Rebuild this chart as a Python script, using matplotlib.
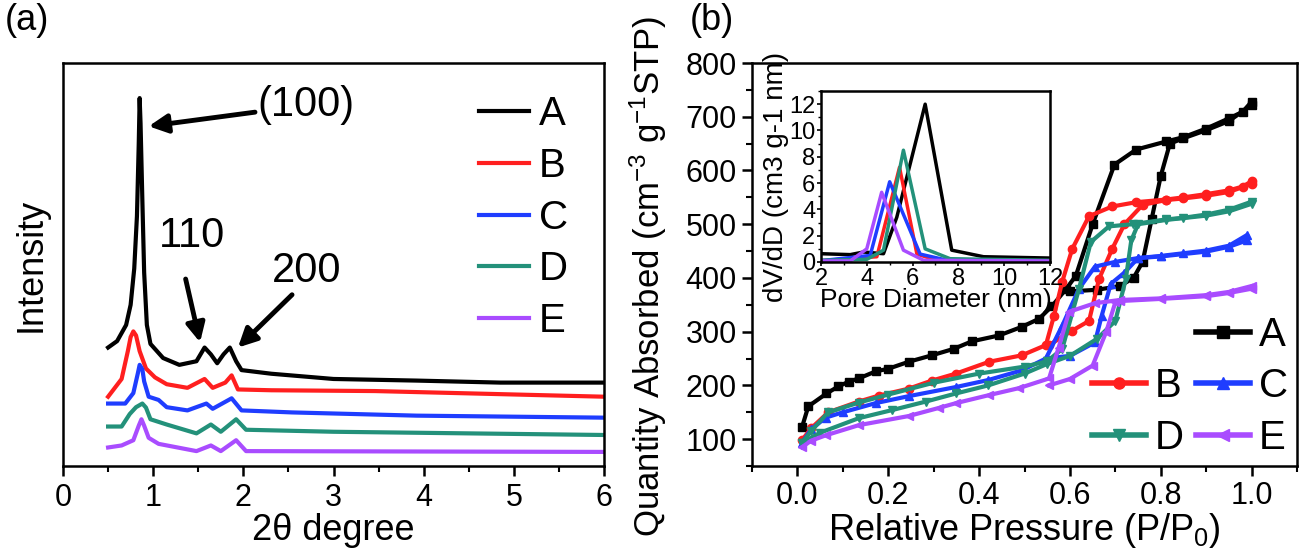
import matplotlib
matplotlib.use("Agg")
import matplotlib.pyplot as plt
from matplotlib.lines import Line2D
from matplotlib.ticker import MultipleLocator

plt.rcParams['font.family'] = ['Liberation Sans', 'DejaVu Sans']
plt.rcParams['mathtext.fontset'] = 'custom'
plt.rcParams['mathtext.rm'] = 'Liberation Sans'
plt.rcParams['mathtext.it'] = 'Liberation Sans:italic'

samples = ['A', 'B', 'C', 'D', 'E']
colors = ['#000000', '#ff1f1f', '#1f3dff', '#23917a', '#a94cff']
markers = ['s', 'o', '^', 'v', '<']

# (a) small-angle XRD, offset intensity (arbitrary units, 0-100)
xrd_x = {
    'A': [0.5, 0.6, 0.7, 0.75, 0.79, 0.82, 0.84, 0.85, 0.86, 0.88, 0.9, 0.93, 0.97, 1.11, 1.29, 1.48,
          1.57, 1.64, 1.71, 1.78, 1.85, 1.92, 1.98, 2.31, 3.0, 3.92, 4.85, 6.0],
    'B': [0.5, 0.65, 0.72, 0.75, 0.78, 0.81, 0.85, 0.92, 1.02, 1.15, 1.38, 1.57, 1.66, 1.8, 1.87,
          1.94, 2.31, 3.46, 6.0],
    'C': [0.5, 0.69, 0.78, 0.83, 0.85, 0.88, 0.9, 0.95, 1.06, 1.15, 1.38, 1.59, 1.66, 1.87, 1.98,
          2.54, 3.92, 6.0],
    'D': [0.5, 0.65, 0.74, 0.81, 0.88, 0.92, 0.97, 1.15, 1.48, 1.64, 1.75, 1.92, 2.03, 3.0, 6.0],
    'E': [0.5, 0.65, 0.78, 0.84, 0.87, 0.9, 0.95, 1.06, 1.48, 1.64, 1.75, 1.92, 2.03, 6.0],
}
xrd_y = {
    'A': [29.4, 31.0, 35.0, 40.0, 49.0, 62.0, 80.0, 91.3, 85.0, 66.0, 48.0, 35.0, 30.3, 26.8, 25.1,
          26.0, 29.4, 27.7, 25.5, 27.7, 29.4, 26.0, 23.8, 22.9, 21.6, 21.2, 20.7, 20.7],
    'B': [17.2, 21.6, 28.6, 32.0, 33.4, 32.4, 28.5, 24.2, 22.0, 20.3, 19.4, 21.6, 19.4, 20.7, 22.5,
          19.0, 18.8, 18.6, 17.2],
    'C': [15.5, 15.5, 18.1, 23.0, 25.1, 24.0, 21.0, 17.2, 16.4, 14.6, 13.8, 15.5, 14.2, 16.8, 13.8,
          13.3, 12.5, 12.0],
    'D': [9.8, 9.8, 12.9, 14.6, 15.5, 14.5, 11.6, 10.3, 8.1, 10.3, 8.5, 11.6, 9.0, 8.5, 7.7],
    'E': [4.6, 5.1, 6.4, 10.0, 11.6, 10.0, 7.0, 5.5, 3.7, 5.1, 3.7, 6.4, 3.7, 3.5],
}

# (b) N2 isotherms: branch 1 (left step) and branch 2 (right step)
iso1_p = {
    'A': [0.01, 0.024, 0.064, 0.09, 0.113, 0.135, 0.172, 0.2, 0.245, 0.296, 0.344, 0.384, 0.444,
          0.494, 0.532, 0.561, 0.592, 0.613, 0.65, 0.698, 0.746, 0.812, 0.85, 0.9, 0.95, 0.98, 1.0],
    'B': [0.01, 0.03, 0.068, 0.135, 0.179, 0.245, 0.296, 0.349, 0.422, 0.494, 0.547, 0.565, 0.583,
          0.605, 0.642, 0.693, 0.746, 0.812, 0.85, 0.9, 0.95, 0.98, 1.0],
    'C': [0.01, 0.03, 0.062, 0.1, 0.172, 0.245, 0.349, 0.42, 0.494, 0.547, 0.583, 0.62, 0.655, 0.7,
          0.75, 0.8, 0.85, 0.9, 0.95, 0.99],
    'D': [0.01, 0.03, 0.068, 0.135, 0.2, 0.3, 0.4, 0.5, 0.55, 0.583, 0.62, 0.646, 0.686, 0.738,
          0.812, 0.85, 0.9, 0.95, 1.0],
    'E': [0.01, 0.03, 0.062, 0.135, 0.245, 0.311, 0.349, 0.422, 0.488, 0.554, 0.575, 0.598, 0.655,
          0.71, 0.8, 0.9, 0.95, 1.0],
}
iso1_q = {
    'A': [122, 161, 185, 198, 207, 213, 226, 231, 244, 256, 268, 282, 293, 309, 324, 348, 380, 404,
          500, 611, 639, 654, 662, 678, 697, 709, 728],
    'B': [98, 120, 150, 170, 181, 194, 209, 222, 244, 256, 275, 330, 393, 454, 515, 533, 541, 546,
          550, 556, 563, 570, 580],
    'C': [93, 118, 140, 150, 167, 180, 197, 210, 228, 250, 311, 380, 421, 430, 437, 441, 446, 451,
          460, 480],
    'D': [93, 115, 150, 168, 183, 205, 222, 235, 245, 268, 380, 467, 496, 500, 509, 512, 518, 527,
          542],
    'E': [85, 97, 107, 126, 143, 158, 167, 182, 195, 213, 270, 337, 353, 359, 362, 368, 374, 385],
}
iso2_p = {
    'A': [1.0, 0.95, 0.9, 0.85, 0.82, 0.8, 0.78, 0.76, 0.74, 0.71, 0.66, 0.6],
    'B': [1.0, 0.95, 0.9, 0.85, 0.812, 0.76, 0.72, 0.693, 0.664, 0.642, 0.605, 0.554],
    'C': [0.99, 0.95, 0.9, 0.8, 0.75, 0.72, 0.69, 0.67, 0.655, 0.6, 0.547],
    'D': [1.0, 0.95, 0.9, 0.812, 0.75, 0.735, 0.723, 0.7, 0.66, 0.6, 0.55, 0.5, 0.42, 0.349, 0.283,
          0.208, 0.135, 0.05, 0.01],
    'E': [1.0, 0.95, 0.9, 0.8, 0.71, 0.7, 0.68, 0.65, 0.6, 0.554],
}
iso2_q = {
    'A': [722, 692, 675, 660, 650, 590, 510, 430, 400, 385, 378, 375],
    'B': [575, 560, 553, 548, 545, 536, 500, 454, 398, 320, 302, 275],
    'C': [470, 458, 449, 440, 437, 410, 389, 330, 280, 255, 250],
    'D': [538, 524, 516, 508, 500, 470, 398, 320, 287, 255, 240, 222, 200, 185, 170, 154, 139, 112, 93],
    'E': [380, 372, 366, 361, 357, 355, 300, 237, 212, 200],
}

# inset: pore size distribution
psd_d = {
    'A': [2.0, 3.28, 3.86, 4.73, 5.31, 6.55, 7.71, 9.1, 12.0],
    'B': [2.0, 4.44, 5.43, 6.19, 7.06, 12.0],
    'C': [2.0, 4.15, 5.0, 6.33, 7.6, 12.0],
    'D': [2.0, 4.0, 4.73, 5.6, 6.55, 7.64, 12.0],
    'E': [2.0, 3.28, 4.0, 4.65, 5.6, 6.48, 12.0],
}
psd_v = {
    'A': [0.63, 0.56, 0.76, 0.63, 3.4, 12.0, 0.9, 0.4, 0.3],
    'B': [0.1, 0.4, 7.2, 0.6, 0.13, 0.05],
    'C': [0.1, 0.5, 6.1, 0.6, 0.1, 0.05],
    'D': [0.13, 0.2, 0.9, 8.5, 1.0, 0.25, 0.13],
    'E': [0.08, 0.08, 1.0, 5.3, 0.9, 0.13, 0.08],
}

fig = plt.figure(figsize=(12.99, 5.48), dpi=100)
ax1 = fig.add_axes([0.0485, 0.1496, 0.4165, 0.7354])
ax2 = fig.add_axes([0.5789, 0.1496, 0.4196, 0.7354])
ins = fig.add_axes([0.632, 0.5219, 0.1763, 0.312])

for ax in (ax1, ax2, ins):
    for s in ax.spines.values():
        s.set_linewidth(1.8)

# ---- (a)
for s, c in zip(samples, colors):
    ax1.plot(xrd_x[s], xrd_y[s], color=c, lw=3, label=s)
ax1.set_xlim(0, 6)
ax1.set_ylim(0, 100)
ax1.set_yticks([])
ax1.xaxis.set_major_locator(MultipleLocator(1))
ax1.xaxis.set_minor_locator(MultipleLocator(0.5))
ax1.tick_params(axis='x', which='major', direction='out', length=7, width=1.8, labelsize=22, pad=5)
ax1.tick_params(axis='x', which='minor', direction='out', length=4, width=1.5)
ax1.set_xlabel('2θ degree', fontsize=26, labelpad=0)
ax1.set_ylabel('Intensity', fontsize=26, labelpad=10)
ax1.legend(loc='upper left', bbox_to_anchor=(0.769, 0.92), frameon=False, fontsize=29,
           handlelength=1.23, handletextpad=0.26, labelspacing=0.34, borderpad=0,
           borderaxespad=0, handleheight=0.7)

arrow = dict(arrowstyle='-|>', lw=3.5, color='k', mutation_scale=28, shrinkA=0, shrinkB=0)
ax1.annotate('(100)', xy=(0.95, 84.3), xytext=(2.16, 89.5), fontsize=30, va='center', ha='left',
             arrowprops=arrow)
ax1.annotate('', xy=(1.52, 30.7), xytext=(1.36, 46.4), arrowprops=arrow)
ax1.text(1.43, 57.0, '110', fontsize=30, ha='center', va='center')
ax1.annotate('', xy=(1.94, 29.4), xytext=(2.54, 42.5), arrowprops=arrow)
ax1.text(2.7, 48.5, '200', fontsize=30, ha='center', va='center')

# ---- (b)
for s, c, m in zip(samples, colors, markers):
    ax2.plot(iso1_p[s], iso1_q[s], color=c, lw=3, marker=m, ms=6)
    ax2.plot(iso2_p[s], iso2_q[s], color=c, lw=3, marker=m, ms=6)
ax2.set_xlim(-0.1, 1.1)
ax2.set_ylim(50, 800)
ax2.xaxis.set_minor_locator(MultipleLocator(0.1))
ax2.yaxis.set_minor_locator(MultipleLocator(50))
ax2.set_xticks([0.0, 0.2, 0.4, 0.6, 0.8, 1.0])
ax2.set_xticklabels(['0.0', '0.2', '0.4', '0.6', '0.8', '1.0'])
ax2.set_yticks(range(100, 900, 100))
ax2.tick_params(which='major', direction='out', length=7, width=1.8, labelsize=22, pad=4)
ax2.tick_params(which='minor', direction='out', length=4, width=1.5)
ax2.set_xlabel('Relative Pressure (P/P$_0$)', fontsize=26, labelpad=0)
ax2.set_ylabel('Quantity Absorbed (cm$^{-3}$ g$^{-1}$STP)', fontsize=25)
ax2.yaxis.set_label_coords(-0.152, 0.47)

handles = [Line2D([], [], alpha=0)]
for s, c, m in zip(samples, colors, markers):
    handles.append(Line2D([], [], color=c, lw=4, marker=m, ms=8, label=s))
order = [handles[0], handles[2], handles[4], handles[1], handles[3], handles[5]]
labels = ['', 'B', 'D', 'A', 'C', 'E']
ax2.legend(order, labels, ncol=2, loc='upper left', bbox_to_anchor=(0.624, 0.373), frameon=False,
           fontsize=29, handlelength=1.33, handletextpad=0.23, labelspacing=0.34,
           columnspacing=0.3, borderpad=0, borderaxespad=0)

# ---- inset
for s, c in zip(samples, colors):
    ins.plot(psd_d[s], psd_v[s], color=c, lw=2.5)
ins.set_xlim(2, 12)
ins.set_ylim(0, 13)
ins.xaxis.set_major_locator(MultipleLocator(2))
ins.xaxis.set_minor_locator(MultipleLocator(1))
ins.yaxis.set_major_locator(MultipleLocator(2))
ins.yaxis.set_minor_locator(MultipleLocator(1))
ins.tick_params(which='major', direction='out', length=3, width=1.2, labelsize=17, pad=1)
ins.tick_params(which='minor', direction='out', length=2, width=1)
ins.set_xlabel('Pore Diameter (nm)', fontsize=19, labelpad=-1)
ins.set_ylabel('dV/dD (cm3 g-1 nm)', fontsize=20, labelpad=0)

fig.text(0.004, 0.995, '(a)', fontsize=26, ha='left', va='top')
fig.text(0.531, 0.995, '(b)', fontsize=26, ha='left', va='top')

fig.savefig('out.png', dpi=100)
